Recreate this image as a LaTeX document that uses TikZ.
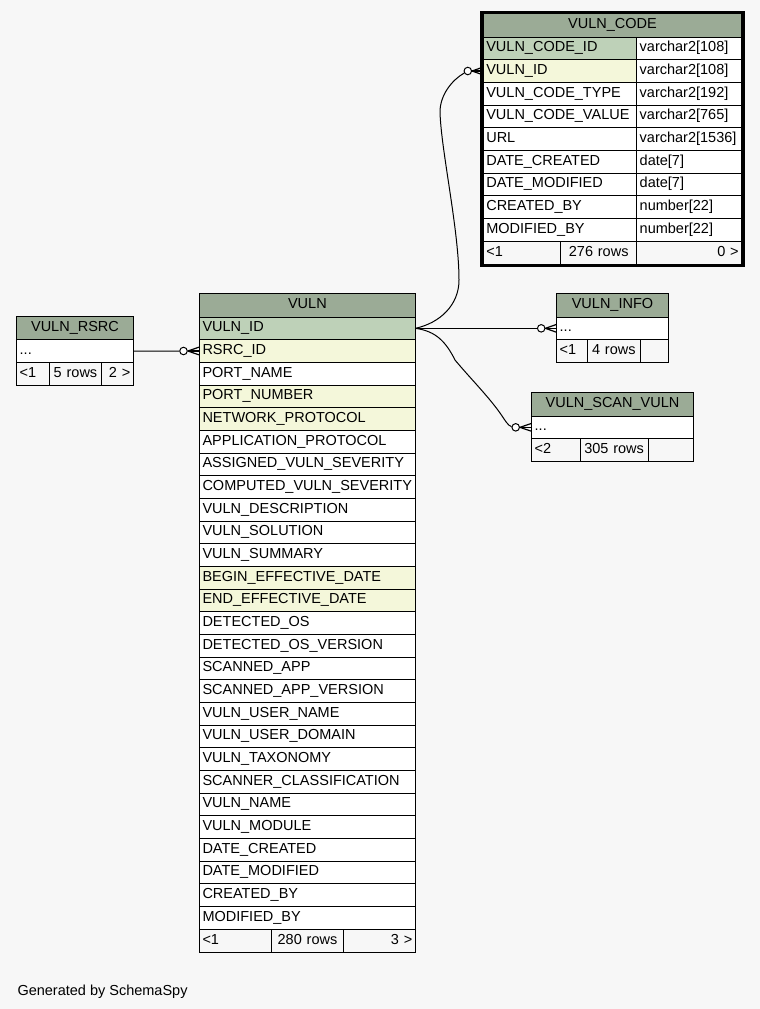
\documentclass[tikz,border=0pt]{standalone}
\usepackage{fontspec}
\setmainfont{Liberation Sans}
\usetikzlibrary{positioning}
\definecolor{bggrey}{HTML}{F7F7F7}
\definecolor{hdrgreen}{HTML}{9BAB96}
\definecolor{pkgreen}{HTML}{BED1B8}
\definecolor{idxyellow}{HTML}{F4F7DA}
\tikzset{
  tblfont/.style={font=\fontsize{14.5}{17}\selectfont},
  hdr/.style={draw, fill=hdrgreen, anchor=north west, outer sep=0pt, inner sep=0pt,
    minimum width=#1pt, minimum height=23.5pt, text height=10.5pt, text depth=3.5pt},
  cell/.style={draw, anchor=north west, outer sep=0pt, inner xsep=3pt, inner ysep=0pt,
    text width=#1pt, minimum height=22.67pt, text height=10.5pt, text depth=3.5pt, align=left},
  foot/.style={draw, anchor=north west, outer sep=0pt, inner xsep=3pt, inner ysep=0pt,
    text width=#1pt, minimum height=23pt, text height=10.5pt, text depth=3.5pt},
  odot/.style={circle, draw, fill=white, inner sep=0pt, minimum size=7.5pt},
  crow/.style={line width=1.2pt},
}
\begin{document}
\begin{tikzpicture}[x=1pt, y=-1pt, line width=1pt, tblfont]
\fill[bggrey] (0,0) rectangle (760,1009);

% VULN
\node[hdr=215.8] (vuln-hd) at (199.5,293.5) {VULN};
\foreach \txt/\fc [count=\i] in {VULN\_ID/pkgreen, RSRC\_ID/idxyellow, PORT\_NAME/white,
    PORT\_NUMBER/idxyellow, NETWORK\_PROTOCOL/idxyellow, APPLICATION\_PROTOCOL/white,
    ASSIGNED\_VULN\_SEVERITY/white, COMPUTED\_VULN\_SEVERITY/white, VULN\_DESCRIPTION/white,
    VULN\_SOLUTION/white, VULN\_SUMMARY/white, BEGIN\_EFFECTIVE\_DATE/idxyellow,
    END\_EFFECTIVE\_DATE/idxyellow, DETECTED\_OS/white, DETECTED\_OS\_VERSION/white,
    SCANNED\_APP/white, SCANNED\_APP\_VERSION/white, VULN\_USER\_NAME/white,
    VULN\_USER\_DOMAIN/white, VULN\_TAXONOMY/white, SCANNER\_CLASSIFICATION/white,
    VULN\_NAME/white, VULN\_MODULE/white, DATE\_CREATED/white, DATE\_MODIFIED/white,
    CREATED\_BY/white, MODIFIED\_BY/white}
  \node[cell=209.8, fill=\fc] (vuln-r\i) at (199.5,{317+(\i-1)*22.67}) {\txt};
\node[foot=66.2, align=left] (vuln-f1) at (vuln-r27.south west) {<1};
\node[foot=65.6, align=center] (vuln-f2) at (vuln-f1.north east) {280 rows};
\node[foot=66, align=right] (vuln-f3) at (vuln-f2.north east) {3 >};

% VULN_CODE
\node[hdr=258.4] (code-hd) at (483.3,13.5) {VULN\_CODE};
\foreach \txt/\fc/\typ [count=\i] in {VULN\_CODE\_ID/pkgreen/varchar2[108],
    VULN\_ID/idxyellow/varchar2[108], VULN\_CODE\_TYPE/white/varchar2[192],
    VULN\_CODE\_VALUE/white/varchar2[765], URL/white/varchar2[1536],
    DATE\_CREATED/white/date[7], DATE\_MODIFIED/white/date[7],
    CREATED\_BY/white/number[22], MODIFIED\_BY/white/number[22]} {
  \node[cell=147.4, fill=\fc] (code-r\i) at (483.3,{37+(\i-1)*22.67}) {\txt};
  \node[cell=99, fill=white] (code-t\i) at (code-r\i.north east) {\typ};
}
\node[foot=71.4, align=left] (code-f1) at (code-r9.south west) {<1};
\node[foot=70, align=center] (code-f2) at (code-f1.north east) {276 rows};
\node[foot=99, align=right] (code-f3) at (code-f2.north east) {0 >};
\draw[line width=2.5pt] ([xshift=-2pt,yshift=1.6pt]code-hd.north west)
  rectangle ([xshift=2pt,yshift=-1.6pt]code-f3.south east);

% VULN_RSRC
\node[hdr=116.6] (rsrc-hd) at (16.7,316.2) {VULN\_RSRC};
\node[cell=110.6, fill=white] (rsrc-r1) at (rsrc-hd.south west) {...};
\node[foot=26.6, align=left] (rsrc-f1) at (rsrc-r1.south west) {<1};
\node[foot=46.4, align=center] (rsrc-f2) at (rsrc-f1.north east) {5 rows};
\node[foot=25.6, align=right] (rsrc-f3) at (rsrc-f2.north east) {2 >};

% VULN_INFO
\node[hdr=111.6] (info-hd) at (556.7,293.5) {VULN\_INFO};
\node[cell=105.6, fill=white] (info-r1) at (info-hd.south west) {...};
\node[foot=25, align=left] (info-f1) at (info-r1.south west) {<1};
\node[foot=46.3, align=center] (info-f2) at (info-f1.north east) {4 rows};
\node[foot=22.3] (info-f3) at (info-f2.north east) {};

% VULN_SCAN_VULN
\node[hdr=161.6] (scan-hd) at (531.7,392.5) {VULN\_SCAN\_VULN};
\node[cell=155.6, fill=white] (scan-r1) at (scan-hd.south west) {...};
\node[foot=42.3, align=left] (scan-f1) at (scan-r1.south west) {<2};
\node[foot=62.3, align=center] (scan-f2) at (scan-f1.north east) {305 rows};
\node[foot=39] (scan-f3) at (scan-f2.north east) {};

% relations
\node[odot, left=11.75pt of vuln-r2.west] (rsrc-o) {};
\node[odot, left=11.25pt of code-r2.west] (code-o) {};
\node[odot, left=11.25pt of info-r1.west] (info-o) {};
\node[odot, left=11.75pt of scan-r1.west] (scan-o) {};
\draw (rsrc-r1.east) -- (rsrc-o);
\draw (vuln-r1.east) -- (info-o);
\draw (vuln-r1.east) .. controls (440,323) and (459,305) .. (459,280)
  .. controls (459,230) and (441,150) .. (440,112)
  .. controls (440,95) and (452,80) .. (code-o);
\draw (vuln-r1.east) .. controls (436,331) and (446,342) .. (455,360)
  .. controls (470,378) and (488,396) .. (500,413)
  .. controls (505,420) and (508,426) .. (scan-o);
\foreach \o/\t in {rsrc-o/vuln-r2, code-o/code-r2, info-o/info-r1, scan-o/scan-r1}
  \foreach \d in {-4,0,4}
    \draw[crow] (\o.east) -- ([yshift=\d pt]\t.west);

\node[anchor=base west, inner sep=0pt] (credit) at (17,995) {Generated by SchemaSpy};
\end{tikzpicture}
\end{document}
